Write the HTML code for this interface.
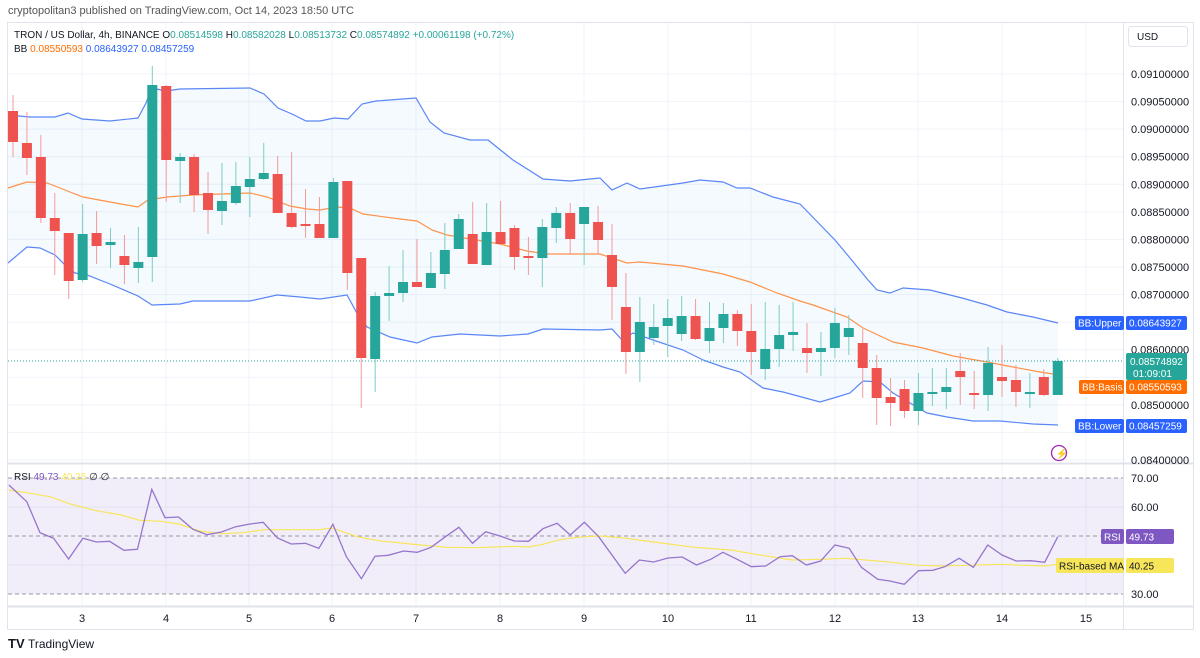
<!DOCTYPE html>
<html><head><meta charset="utf-8"><style>
body{margin:0;width:1200px;height:658px;background:#fff;font-family:"Liberation Sans",sans-serif;overflow:hidden;position:relative}
.t{position:absolute;font-size:11px;white-space:nowrap}
</style></head><body>
<div class="t" style="left:8px;top:5px;color:#555">cryptopolitan3 published on TradingView.com, Oct 14, 2023 18:50 UTC</div>
<svg id="s" width="1200" height="658" style="position:absolute;left:0;top:0" font-family="Liberation Sans, sans-serif"></svg>
<script>
var S=document.getElementById('s'),h='';
function Y(p){return 74+(0.091-p)/0.0005*27.57}
h+='<rect x="7.5" y="22.5" width="1186" height="607" fill="none" stroke="#e0e3eb"/>';
for(var k=0;k<=14;k++){var y=Y(0.091-k*0.0005);h+='<line x1="8" x2="1123" y1="'+y+'" y2="'+y+'" stroke="#f0f3fa"/>';}
var days=[82,166,249,332,416,500,584,668,751,835,918,1002,1086];
days.forEach(function(x){h+='<line x1="'+x+'" x2="'+x+'" y1="23" y2="606" stroke="#f0f3fa"/>';});
[507,565].forEach(function(y){h+='<line x1="8" x2="1123" y1="'+y+'" y2="'+y+'" stroke="#f0f3fa"/>';});
h+='<line x1="1123.5" x2="1123.5" y1="23" y2="629" stroke="#e0e3eb"/>';
h+='<line x1="8" x2="1193" y1="463.5" y2="463.5" stroke="#e0e3eb" stroke-width="2"/>';
h+='<line x1="8" x2="1193" y1="606.5" y2="606.5" stroke="#e0e3eb" stroke-width="2"/>';
var up=[[8,115],[30,117],[55,117],[68,113],[82,119],[110,121],[138,118],[146,103],[152,88],[166,91],[180,89],[250,88],[264,94],[278,108],[292,114],[306,121],[320,121],[334,118],[348,119],[362,104],[376,101],[416,98],[430,122],[444,133],[470,140],[488,140],[513,160],[543,179],[570,181],[600,178],[612,190],[627,183],[640,189],[683,183],[700,180],[723,182],[737,188],[750,188],[773,197],[800,204],[835,240],[850,258],[868,280],[877,290],[890,293],[903,288],[930,290],[962,298],[987,305],[1007,312],[1033,317],[1058,323]];
var lo=[[8,263],[27,247],[40,248],[55,255],[67,267],[75,273],[87,275],[110,284],[138,296],[152,305],[180,304],[193,301],[250,301],[277,295],[300,297],[320,299],[347,295],[358,315],[367,327],[390,337],[417,343],[432,337],[460,334],[500,336],[528,334],[543,329],[600,330],[612,329],[622,340],[633,333],[653,340],[683,350],[703,360],[723,367],[740,372],[763,388],[783,392],[820,402],[837,397],[850,393],[863,381],[880,382],[893,393],[927,413],[947,417],[973,421],[1000,421],[1033,424],[1058,425]];
var ba=[[8,188],[27,182],[47,183],[55,186],[70,192],[83,197],[110,202],[138,207],[148,200],[167,197],[193,195],[250,193],[267,197],[290,206],[307,209],[320,210],[337,207],[350,208],[363,214],[400,219],[417,221],[432,230],[447,235],[500,244],[527,251],[547,254],[600,254],[627,263],[640,262],[683,266],[723,274],[750,282],[777,293],[800,301],[813,305],[847,317],[863,328],[893,342],[923,348],[953,356],[987,362],[1013,367],[1040,372],[1053,374]];
function P(a){return a.map(function(p){return p[0]+','+p[1]}).join(' ')}
h+='<polygon points="'+P(up)+' '+P(lo.slice().reverse())+'" fill="rgba(33,150,243,0.05)"/>';
h+='<polyline points="'+P(up)+'" fill="none" stroke="#5b86f7" stroke-width="1.2"/>';
h+='<polyline points="'+P(lo)+'" fill="none" stroke="#5b86f7" stroke-width="1.2"/>';
h+='<polyline points="'+P(ba)+'" fill="none" stroke="#ff9248" stroke-width="1.2"/>';
h+='<line x1="8" x2="1123" y1="361" y2="361" stroke="#26a69a" stroke-dasharray="1,2"/>';
var C=[[111,142,95,157,0],[143,158,112,175,0],[157,218,135,223,0],[218,231,193,275,0],[233,281,233,299,0],[234,280,204,282,1],[233,246,211,264,0],[242,245,228,268,1],[256,265,235,284,0],[262,268,227,283,1],[85,257,66,282,1],[86,160,85,202,0],[157,161,153,203,1],[157,195,154,212,0],[193,210,172,234,0],[201,211,163,225,1],[186,203,162,205,1],[179,187,157,217,1],[173,179,143,180,1],[174,213,156,213,0],[213,227,152,228,0],[224,226,189,238,0],[224,238,197,238,0],[182,238,178,238,1],[181,273,181,290,0],[258,358,258,408,0],[296,359,292,392,1],[293,296,266,321,1],[282,293,250,302,1],[282,287,239,287,0],[273,288,252,288,1],[250,274,223,289,1],[219,249,214,249,1],[234,264,202,264,0],[232,265,203,265,1],[232,244,201,244,0],[228,257,225,270,0],[256,258,237,275,0],[227,258,219,287,1],[213,228,207,243,1],[213,239,203,255,0],[207,224,207,265,1],[222,240,206,255,0],[255,287,224,320,0],[307,352,273,374,0],[322,352,297,382,1],[327,338,304,345,1],[318,326,299,357,1],[316,334,296,341,1],[316,339,299,340,0],[328,341,302,353,1],[314,328,303,343,1],[314,331,310,346,0],[331,352,304,375,0],[349,369,302,380,1],[335,349,305,367,1],[332,335,302,351,1],[348,353,323,373,0],[348,352,332,376,1],[323,348,308,358,1],[328,337,315,355,1],[343,368,329,398,0],[368,398,355,425,0],[397,403,378,426,0],[389,411,380,418,0],[393,411,373,425,1],[392,394,368,406,1],[387,392,368,409,1],[371,377,353,405,0],[393,395,371,409,0],[363,395,347,411,1],[377,381,345,397,0],[380,392,365,407,0],[392,393,373,408,1],[377,395,369,396,0],[361,395,358,395,1]];
C.forEach(function(c,i){var x=13+i*13.93,col=c[4]?'#26a69a':'#ef5350',wc=c[4]?'#7fcdc4':'#f49a98';
h+='<line x1="'+x+'" x2="'+x+'" y1="'+c[2]+'" y2="'+c[3]+'" stroke="'+wc+'"/>';
h+='<rect x="'+(x-5)+'" y="'+c[0]+'" width="10" height="'+Math.max(2,c[1]-c[0])+'" fill="'+col+'"/>';});
for(var k=0;k<=14;k++){var p=0.091-k*0.0005,y=Y(p);if(y>320&&y<440&&k!=10&&k!=12)continue;h+='<text x="1131" y="'+(y+4)+'" font-size="11" fill="#131722">'+p.toFixed(8)+'</text>';}
h+='<rect x="1128.5" y="26.5" width="59" height="20" rx="3" fill="#fff" stroke="#e0e3eb"/><text x="1137" y="40" font-size="10" fill="#131722">USD</text>';
function lab(x,y,w,hh,bg,txt,tc){return '<rect x="'+x+'" y="'+y+'" width="'+w+'" height="'+hh+'" rx="2" fill="'+bg+'"/><text x="'+(x+3)+'" y="'+(y+hh-3.5)+'" font-size="10" fill="'+(tc||'#fff')+'">'+txt+'</text>';}
h+=lab(1075,316,49,14,'#2962ff','BB:Upper')+lab(1126,316,61,14,'#2962ff','0.08643927');
h+='<rect x="1126" y="353" width="61" height="27" rx="2" fill="#26a69a"/><text x="1130" y="365" font-size="10" fill="#fff">0.08574892</text><text x="1133" y="377" font-size="10" fill="#fff">01:09:01</text>';
h+=lab(1079,380,45,14,'#ff6d00','BB:Basis')+lab(1126,380,61,14,'#ff6d00','0.08550593');
h+=lab(1075,419,49,14,'#2962ff','BB:Lower')+lab(1126,419,61,14,'#2962ff','0.08457259');
h+='<circle cx="1059" cy="453" r="7.5" fill="#fff" stroke="#9c27b0" stroke-width="1.3"/><text x="1055.5" y="457" font-size="10" fill="#9c27b0">⚡</text>';
h+='<rect x="8" y="478" width="1115" height="116" fill="rgba(126,87,194,0.1)"/>';
[478,536,594].forEach(function(y){h+='<line x1="8" x2="1123" y1="'+y+'" y2="'+y+'" stroke="#9598a1" stroke-dasharray="4,3"/>';});
var r5=[[25,75],[75,125],[112,218],[150,235],[192,297],[232,235],[270,246],[307,244],[347,271],[385,268],[425,88],[462,173],[500,171],[540,208],[580,224],[620,216],[660,200],[700,192],[737,187],[777,234],[815,252],[855,250],[893,265],[932,193],[970,290],[1012,356],[1050,289],[1087,286],[1130,273],[1168,277],[1207,262],[1245,232],[1285,202],[1323,250],[1360,215],[1400,228],[1440,243],[1480,244],[1520,206],[1560,190]];
var r6=[[25,225],[60,187],[95,230],[160,340],[195,300],[230,306],[265,294],[300,291],[335,315],[370,298],[400,277],[435,298],[470,320],[505,318],[540,290],[570,287],[605,315],[640,303],[675,255],[710,265],[740,322],[780,358],[810,363],[845,373],[880,332],[915,331],[945,320],[980,295],[1015,322],[1050,255],[1085,285],[1120,303],[1155,302],[1190,307],[1222,230]];
var m5=[[25,90],[75,98],[140,110],[200,133],[270,152],[340,165],[390,181],[450,184],[500,192],[560,213],[620,221],[680,218],[740,209],[800,209],[890,209],[930,204],[1000,230],[1060,242],[1150,252],[1250,262],[1330,263],[1440,259],[1480,261],[1520,253],[1560,241]];
var m6=[[25,235],[60,230],[100,228],[150,233],[230,246],[330,262],[420,270],[480,283],[570,300],[640,298],[700,295],[800,305],[880,316],[940,318],[1000,316],[1080,313],[1140,316],[1190,318],[1222,313]];
function R(a5,a6){var o=a5.map(function(p){return [(p[0]/2.8).toFixed(1),(460+p[1]/3).toFixed(1)]});a6.forEach(function(p){o.push([(560+p[0]/2.455).toFixed(1),(460+p[1]/3).toFixed(1)])});return P(o);}
h+='<polyline points="'+R(m5,m6)+'" fill="none" stroke="#f7e55a" stroke-width="1.2"/>';
h+='<polyline points="'+R(r5,r6)+'" fill="none" stroke="#9575cd" stroke-width="1.3"/>';
[[70,478],[60,507],[30,594]].forEach(function(a){h+='<text x="1131" y="'+(a[1]+4)+'" font-size="11" fill="#131722">'+a[0].toFixed(2)+'</text>';});
h+=lab(1101,529,23,15,'#7e57c2','RSI')+lab(1126,529,48,15,'#7e57c2','49.73');
h+=lab(1056,558,68,15,'#f7e55a','RSI-based MA','#131722')+lab(1126,558,48,15,'#f7e55a','40.25','#131722');
h+='<text x="14" y="480" font-size="10" fill="#131722">RSI <tspan fill="#7e57c2">49.73</tspan> <tspan fill="#f7e55a">40.25</tspan> ∅ ∅</text>';
var dl=['3','4','5','6','7','8','9','10','11','12','13','14','15'];
days.forEach(function(x,i){h+='<text x="'+x+'" y="622" font-size="11" fill="#131722" text-anchor="middle">'+dl[i]+'</text>';});
h+='<text x="14" y="38" font-size="10" fill="#131722">TRON / US Dollar, 4h, BINANCE  O<tspan fill="#26a69a">0.08514598</tspan>  H<tspan fill="#26a69a">0.08582028</tspan>  L<tspan fill="#26a69a">0.08513732</tspan>  C<tspan fill="#26a69a">0.08574892  +0.00061198 (+0.72%)</tspan></text>';
h+='<text x="14" y="52" font-size="10" fill="#131722">BB <tspan fill="#ff6d00">0.08550593</tspan>  <tspan fill="#2962ff">0.08643927</tspan>  <tspan fill="#2962ff">0.08457259</tspan></text>';
h+='<text x="8" y="648" font-size="13" font-weight="bold" fill="#131722">TV</text><text x="28" y="648" font-size="12" fill="#131722">TradingView</text>';
S.innerHTML=h;
</script>
</body></html>
